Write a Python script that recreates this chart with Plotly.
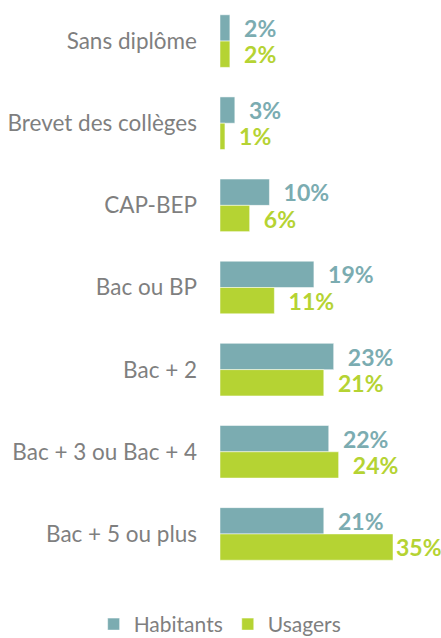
import plotly.graph_objects as go

categories = ["Sans diplôme", "Brevet des collèges", "CAP-BEP", "Bac ou BP",
              "Bac + 2", "Bac + 3 ou Bac + 4", "Bac + 5 ou plus"]
habitants = [2, 3, 10, 19, 23, 22, 21]
usagers = [2, 1, 6, 11, 21, 24, 35]

TEAL = "#7BACB1"
GREEN = "#B5D333"
FONT = "Lato, 'Open Sans', sans-serif"

def labels(vals, edge=None):
    out = []
    for v in vals:
        pad = "" if (edge is not None and v >= edge) else "  "
        out.append(f"{pad}{v}%")
    return out

fig = go.Figure()
fig.add_trace(go.Bar(
    name="Habitants", y=categories, x=habitants, orientation="h",
    marker=dict(color=TEAL, line=dict(color="white", width=0.5)),
    text=labels(habitants), textposition="outside", cliponaxis=False,
    constraintext="none",
    textfont=dict(color=TEAL, size=23, family=FONT, weight="bold"),
))
fig.add_trace(go.Bar(
    name="Usagers", y=categories, x=usagers, orientation="h",
    marker=dict(color=GREEN, line=dict(color="white", width=0.5)),
    text=labels(usagers, edge=30), textposition="outside", cliponaxis=False,
    constraintext="none",
    textfont=dict(color=GREEN, size=23, family=FONT, weight="bold"),
))

fig.update_layout(
    width=441, height=638,
    barmode="group", bargap=0.36, bargroupgap=0,
    plot_bgcolor="white", paper_bgcolor="white",
    margin=dict(l=220, r=5, t=0, b=63, autoexpand=False),
    font=dict(family=FONT, color="#7F7F7F", size=22),
    xaxis=dict(range=[0, 43.7], visible=False, showgrid=False, zeroline=False,
               automargin=False),
    yaxis=dict(autorange="reversed", showgrid=False, zeroline=False, showline=False,
               ticks="", ticklabelstandoff=22, automargin=False,
               tickfont=dict(size=22.5, color="#7F7F7F", family=FONT)),
    legend=dict(orientation="h", xref="paper", yref="paper",
                x=-0.585, xanchor="left", y=-0.086, yanchor="middle",
                font=dict(size=21, color="#7F7F7F", family=FONT),
                itemwidth=30, traceorder="normal"),
    showlegend=True,
)

fig.write_html("out.html", config={"displayModeBar": False},
               post_script="document.body.style.margin='0';")
